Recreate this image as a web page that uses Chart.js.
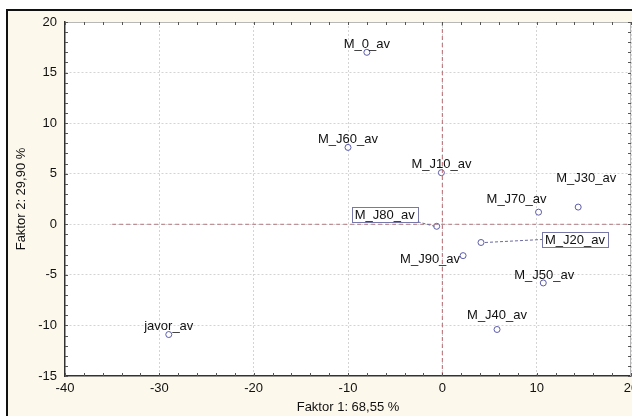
<!DOCTYPE html>
<html>
<head>
<meta charset="utf-8">
<script src="https://cdn.jsdelivr.net/npm/chart.js@4/dist/chart.umd.min.js"></script>
<style>
    html, body { margin: 0; padding: 0; background: #ffffff; overflow: hidden; width: 632px; height: 416px; }
    #frame { position: absolute; left: 6px; top: 9px; width: 700px; height: 500px;
             border-left: 2px solid #111; border-top: 2px solid #111; background: #fcf8ec; }
    #chart { position: absolute; left: 0; top: 0; }
</style>
</head>
<body>
<div id="frame"></div>
<canvas id="chart" width="660" height="416"></canvas>
<script>
// datos de los puntos
const nombres = ['M_0_av', 'M_J60_av', 'M_J10_av', 'M_J30_av', 'M_J70_av', 'M_J80_av', 'M_J20_av', 'M_J90_av', 'M_J50_av', 'M_J40_av', 'javor_av'];
const faktor1 = [-8.0, -10.0, -0.1, 14.4, 10.2, -0.6, 4.1, 2.2, 10.7, 5.8, -29.0];
const faktor2 = [17.0, 7.6, 5.1, 1.7, 1.2, -0.2, -1.8, -3.1, -5.8, -10.4, -10.9];

// lineas de referencia
const refVertX = [0, 0];
const refVertY = [-15, 20];
const refHorzX = [-35, 20];
const refHorzY = [0, 0];

const xMin = -40, xMax = 20, yMin = -15, yMax = 20;
const xLabelStep = 10, yLabelStep = 5;
const tituloX = 'Faktor 1: 68,55 %';
const tituloY = 'Faktor 2: 29,90 %';

// posicion de las etiquetas (pixeles respecto al punto) y si llevan caja
const etiquetaPos = {
    'M_0_av': [0, -9, false],
    'M_J60_av': [0, -9, false],
    'M_J10_av': [0, -9, false],
    'M_J30_av': [8, -30, false],
    'M_J70_av': [-22, -14, false],
    'M_J80_av': [-52, -12, true],
    'M_J20_av': [94, -3, true],
    'M_J90_av': [-33, 3, false],
    'M_J50_av': [1, -9, false],
    'M_J40_av': [0, -15, false],
    'javor_av': [0, -9, false]
};

const FONT = 'Arial, "Liberation Sans", sans-serif';

let puntos = faktor1.map((x, i) => ({ x: x, y: faktor2[i] }));

const fondoPlot = {
    id: 'fondoPlot',
    beforeDraw(chart) {
        const a = chart.chartArea;
        const ctx = chart.ctx;
        ctx.save();
        ctx.fillStyle = '#ffffff';
        ctx.fillRect(a.left, a.top, a.right - a.left, a.bottom - a.top);
        ctx.restore();
    },
    afterDraw(chart) {
        const a = chart.chartArea;
        const ctx = chart.ctx;
        const sx = chart.scales.x, sy = chart.scales.y;
        ctx.save();
        // borde superior y derecho
        ctx.strokeStyle = '#b8b8b8';
        ctx.lineWidth = 1;
        ctx.beginPath();
        ctx.moveTo(a.left, a.top + 0.5);
        ctx.lineTo(a.right - 0.5, a.top + 0.5);
        ctx.lineTo(a.right - 0.5, a.bottom);
        ctx.stroke();
        // marcas menores hacia dentro
        ctx.strokeStyle = '#555';
        ctx.beginPath();
        for (let v = xMin; v <= xMax; v += 2) {
            let px = Math.round(sx.getPixelForValue(v)) + 0.5;
            ctx.moveTo(px, a.bottom); ctx.lineTo(px, a.bottom - 3);
            ctx.moveTo(px, a.top); ctx.lineTo(px, a.top + 3);
        }
        for (let v = yMin; v <= yMax; v += 1) {
            let py = Math.round(sy.getPixelForValue(v)) + 0.5;
            ctx.moveTo(a.left, py); ctx.lineTo(a.left + 3, py);
            ctx.moveTo(a.right, py); ctx.lineTo(a.right - 3, py);
        }
        ctx.stroke();
        ctx.restore();
    }
};

const etiquetas = {
    id: 'etiquetas',
    afterDatasetsDraw(chart) {
        const ctx = chart.ctx;
        const meta = chart.getDatasetMeta(2);
        ctx.save();
        ctx.font = '13px ' + FONT;
        ctx.textAlign = 'center';
        ctx.textBaseline = 'middle';
        meta.data.forEach((p, i) => {
            const pos = etiquetaPos[nombres[i]];
            const cx = p.x + pos[0];
            const cy = p.y + pos[1];
            if (pos[2]) {
                const w = ctx.measureText(nombres[i]).width + 6;
                const h = 15;
                const bx = cx - w / 2, by = cy - h / 2;
                // linea guia
                ctx.strokeStyle = '#6a6aa0';
                ctx.lineWidth = 1;
                ctx.setLineDash([3, 2]);
                ctx.beginPath();
                if (pos[0] < 0) {
                    ctx.moveTo(bx + w, by + h);
                    ctx.lineTo(p.x - 2, p.y);
                } else {
                    ctx.moveTo(p.x + 4, p.y);
                    ctx.lineTo(bx, cy);
                }
                ctx.stroke();
                ctx.setLineDash([]);
                ctx.fillStyle = '#ffffff';
                ctx.fillRect(bx, by, w, h);
                ctx.strokeStyle = '#7878a8';
                ctx.strokeRect(Math.round(bx) + 0.5, Math.round(by) + 0.5, Math.round(w), h);
            }
            ctx.fillStyle = '#111';
            ctx.fillText(nombres[i], cx, cy + 1);
        });
        ctx.restore();
    }
};

let ctx = document.getElementById('chart').getContext('2d');
let chart = new Chart(ctx, {
    type: 'scatter',
    data: {
        datasets: [
            {
                type: 'line',
                data: refVertX.map((x, i) => ({ x: x, y: refVertY[i] })),
                borderColor: '#b86a70',
                borderWidth: 1,
                borderDash: [4, 3],
                pointRadius: 0,
                fill: false
            },
            {
                type: 'line',
                data: refHorzX.map((x, i) => ({ x: x, y: refHorzY[i] })),
                borderColor: '#b07a80',
                borderWidth: 1,
                borderDash: [4, 3],
                pointRadius: 0,
                fill: false
            },
            {
                data: puntos,
                pointRadius: 3,
                pointBorderWidth: 1,
                pointBorderColor: '#5c5caa',
                pointBackgroundColor: '#ffffff',
                showLine: false
            }
        ]
    },
    options: {
        responsive: false,
        animation: false,
        devicePixelRatio: 1,
        layout: { padding: { top: 22, right: 29, left: 0, bottom: 0 } },
        plugins: {
            legend: { display: false },
            tooltip: { enabled: false }
        },
        scales: {
            x: {
                type: 'linear',
                min: xMin,
                max: xMax,
                afterFit: s => { s.height = 40; },
                ticks: {
                    stepSize: 2,
                    autoSkip: false,
                    maxRotation: 0,
                    padding: 5,
                    color: '#111',
                    font: { size: 13, family: FONT },
                    callback: v => (v % xLabelStep === 0 ? v : '')
                },
                grid: {
                    drawTicks: false,
                    color: c => (c.tick && c.tick.value % xLabelStep === 0 && c.tick.value !== xMin ? '#d4d4d4' : 'rgba(0,0,0,0)'),
                    lineWidth: 1
                },
                border: { display: true, color: '#333', width: 1.5, dash: [2, 2] },
                title: {
                    display: true,
                    text: tituloX,
                    color: '#111',
                    font: { size: 13, family: FONT },
                    padding: { top: 0, bottom: 1 }
                }
            },
            y: {
                type: 'linear',
                min: yMin,
                max: yMax,
                afterFit: s => { s.width = 65; },
                ticks: {
                    stepSize: 1,
                    autoSkip: false,
                    padding: 8,
                    color: '#111',
                    font: { size: 13, family: FONT },
                    callback: v => (v % yLabelStep === 0 ? v : '')
                },
                grid: {
                    drawTicks: false,
                    color: c => (c.tick && c.tick.value % yLabelStep === 0 && c.tick.value !== yMin ? '#d4d4d4' : 'rgba(0,0,0,0)'),
                    lineWidth: 1
                },
                border: { display: true, color: '#333', width: 1.5, dash: [2, 2] },
                title: {
                    display: true,
                    text: tituloY,
                    color: '#111',
                    font: { size: 13, family: FONT },
                    padding: { top: 14, bottom: 0 }
                }
            }
        }
    },
    plugins: [fondoPlot, etiquetas]
});
</script>
</body>
</html>
